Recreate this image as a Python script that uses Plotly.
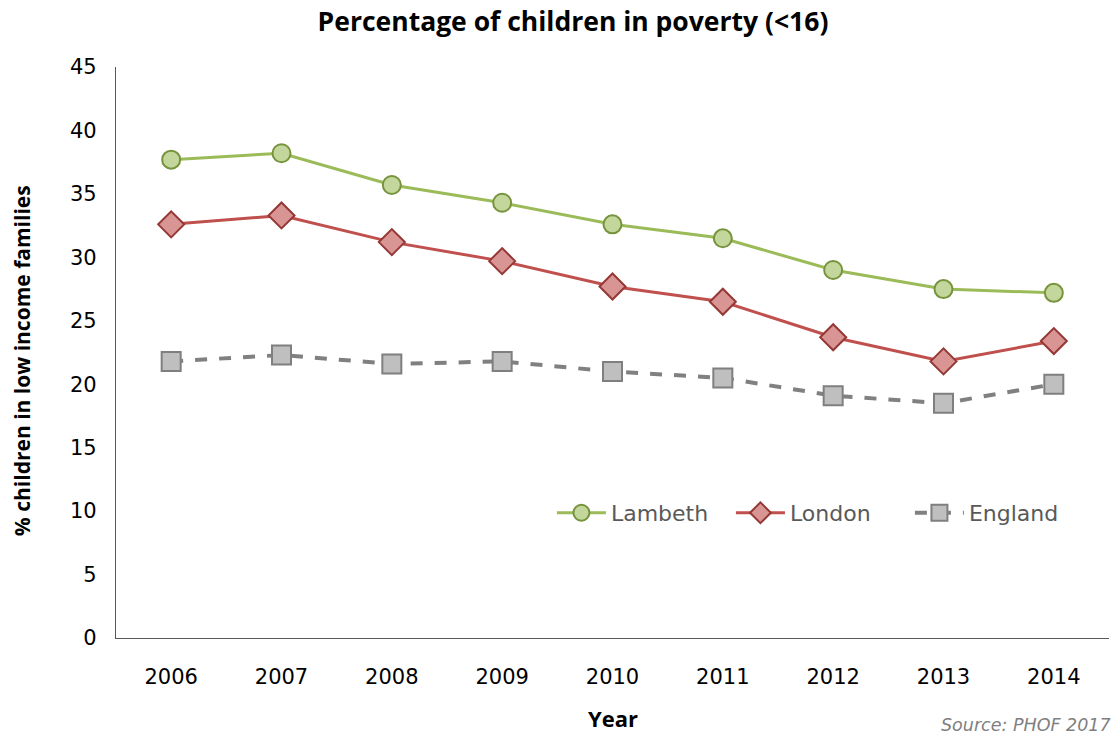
import plotly.graph_objects as go

years = ["2006", "2007", "2008", "2009", "2010", "2011", "2012", "2013", "2014"]
lambeth = [37.7, 38.2, 35.7, 34.3, 32.6, 31.5, 29.0, 27.5, 27.2]
london = [32.6, 33.3, 31.2, 29.7, 27.7, 26.5, 23.7, 21.8, 23.4]
england = [21.8, 22.3, 21.6, 21.8, 21.0, 20.5, 19.1, 18.5, 20.0]

BOLD = "Open Sans"
TXT = "DejaVu Sans"

fig = go.Figure()
fig.add_trace(go.Scatter(
    x=years, y=lambeth, name="Lambeth", mode="lines+markers",
    line=dict(color="#9BBB59", width=3),
    marker=dict(symbol="circle", size=18, color="#C3D69B",
                line=dict(color="#77933C", width=2)),
))
fig.add_trace(go.Scatter(
    x=years, y=london, name="London", mode="lines+markers",
    line=dict(color="#C0504D", width=3),
    marker=dict(symbol="diamond", size=20, color="#D99594",
                line=dict(color="#953735", width=2)),
))
fig.add_trace(go.Scatter(
    x=years, y=england, name="England", mode="lines+markers",
    line=dict(color="#808080", width=4, dash="dash"),
    marker=dict(symbol="square", size=19, color="#BFBFBF",
                line=dict(color="#7F7F7F", width=2)),
))

fig.update_layout(
    width=1117, height=736,
    margin=dict(l=116, r=8, t=67, b=98),
    plot_bgcolor="white", paper_bgcolor="white",
    font=dict(family=TXT, color="#000000"),
    title=dict(text="<b>Percentage of children in poverty (<16)</b>",
               x=0.513, xanchor="center", y=0.97, yanchor="middle",
               font=dict(size=26.5, color="#000000", family=BOLD)),
    xaxis=dict(
        type="category", range=[-0.5, 8.5], automargin=False,
        showline=True, linecolor="#595959", linewidth=1.3,
        showgrid=False, ticks="", ticklabelstandoff=20,
        tickfont=dict(size=21, family=TXT, color="#000000"),
    ),
    yaxis=dict(
        range=[0, 45], dtick=5, automargin=False,
        showline=True, linecolor="#595959", linewidth=1.3,
        showgrid=False, zeroline=False, ticks="", ticklabelstandoff=14,
        tickfont=dict(size=21, family=TXT, color="#000000"),
    ),
    legend=dict(
        orientation="h", x=0.439, xanchor="left", y=0.219, yanchor="middle",
        font=dict(size=22, family=TXT, color="#595959"),
        bgcolor="rgba(0,0,0,0)", itemwidth=49,
        entrywidth=115, entrywidthmode="pixels",
    ),
    showlegend=True,
)

fig.add_annotation(
    text="<b>Year</b>", xref="paper", yref="paper",
    x=0.5, y=-0.14, xanchor="center", yanchor="middle", showarrow=False,
    font=dict(size=22, family=BOLD, color="#000000"),
)
fig.add_annotation(
    text="<b>% children in low income families</b>", xref="paper", yref="paper",
    x=-0.0946, y=0.485, xanchor="center", yanchor="middle", showarrow=False,
    textangle=-90,
    font=dict(size=21, family=BOLD, color="#000000"),
)
fig.add_annotation(
    text="<i>Source: PHOF 2017</i>", xref="paper", yref="paper",
    x=1.004, y=-0.153, xanchor="right", yanchor="middle", showarrow=False,
    font=dict(size=17.5, family=TXT, color="#808080"),
)

fig.write_html("out.html")
